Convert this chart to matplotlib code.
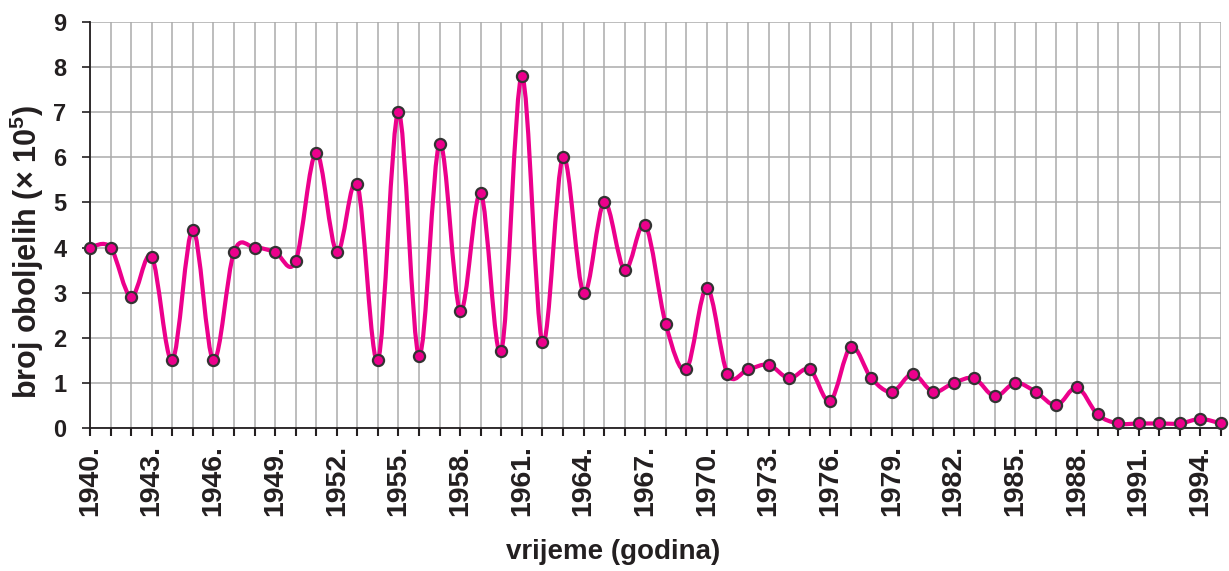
import matplotlib
matplotlib.use("Agg")
import matplotlib.pyplot as plt
from matplotlib.path import Path
from matplotlib.patches import PathPatch
import numpy as np

years = list(range(1940, 1996))
values = [4.0, 4.0, 2.9, 3.8, 1.5, 4.4, 1.5, 3.9, 4.0, 3.9,
          3.7, 6.1, 3.9, 5.4, 1.5, 7.0, 1.6, 6.3, 2.6, 5.2,
          1.7, 7.8, 1.9, 6.0, 3.0, 5.0, 3.5, 4.5, 2.3, 1.3,
          3.1, 1.2, 1.3, 1.4, 1.1, 1.3, 0.6, 1.8, 1.1, 0.8,
          1.2, 0.8, 1.0, 1.1, 0.7, 1.0, 0.8, 0.5, 0.9, 0.3,
          0.1, 0.1, 0.1, 0.1, 0.2, 0.1]
label_years = list(range(1940, 1996, 3))
tick_labels = [f"{y}." for y in label_years]
y_ticks = list(range(0, 10))

plt.rcParams['font.family'] = ['Liberation Sans', 'DejaVu Sans']
plt.rcParams['font.weight'] = 'bold'
plt.rcParams['mathtext.fontset'] = 'custom'
plt.rcParams['mathtext.rm'] = 'Liberation Sans:bold'
plt.rcParams['mathtext.it'] = 'Liberation Sans:bold'
plt.rcParams['mathtext.bf'] = 'Liberation Sans:bold'

W, H = 1229, 571
fig = plt.figure(figsize=(W / 100, H / 100), dpi=100)
L, R, T, B = 90, 1221, 22, 428
ax = fig.add_axes([L / W, 1 - B / H, (R - L) / W, (B - T) / H])

text_color = '#231F20'
line_color = '#EC008C'

# smooth curve (Excel-like Bezier smoothing) built from the data points
x = np.array(years, dtype=float)
yv = np.array(values, dtype=float)
n = len(x)
verts = [(x[0], yv[0])]
codes = [Path.MOVETO]
for i in range(n - 1):
    xp, yp = (x[i - 1], yv[i - 1]) if i > 0 else (x[i], yv[i])
    xn2, yn2 = (x[i + 2], yv[i + 2]) if i + 2 < n else (x[i + 1], yv[i + 1])
    c1 = (x[i] + (x[i + 1] - xp) / 6, yv[i] + (yv[i + 1] - yp) / 6)
    c2 = (x[i + 1] - (xn2 - x[i]) / 6, yv[i + 1] - (yn2 - yv[i]) / 6)
    verts += [c1, c2, (x[i + 1], yv[i + 1])]
    codes += [Path.CURVE4] * 3
patch = PathPatch(Path(verts, codes), facecolor='none', edgecolor=line_color,
                  lw=3.0, zorder=3, capstyle='round', joinstyle='round')
patch.set_clip_on(False)
ax.add_patch(patch)
ax.plot(years, values, linestyle='none', marker='o', markersize=8,
        markerfacecolor=line_color, markeredgecolor='#333333',
        markeredgewidth=1.6, zorder=4, clip_on=False)

ax.set_xlim(1940, 1995)
ax.set_ylim(0, 9)
ax.set_xticks(years, minor=False)
ax.set_xticklabels([f"{y}." if y in label_years else "" for y in years],
                   rotation=90, fontsize=20.5, fontweight='bold', color=text_color)
ax.set_yticks(y_ticks)
ax.set_yticklabels([str(v) for v in y_ticks], fontsize=17,
                   fontweight='bold', color=text_color)
ax.tick_params(axis='x', direction='out', length=6, width=1.5,
               color=text_color, pad=6)
ax.tick_params(axis='y', direction='out', length=6, width=1.2,
               color=text_color, pad=11)

ax.grid(True, color='#ABABAB', linewidth=1.1, zorder=0)
ax.set_axisbelow(True)
for s in ['top', 'right']:
    ax.spines[s].set_visible(False)
for s in ['left', 'bottom']:
    ax.spines[s].set_color(text_color)
    ax.spines[s].set_linewidth(1.3)
    ax.spines[s].set_zorder(2.5)

fig.text(27 / W, 1 - 252 / H, r"broj oboljelih (× 10$^{5}$)", rotation=90,
         ha='center', va='center', fontsize=22, fontweight='bold',
         color=text_color)
fig.text(613 / W, 1 - 552 / H, "vrijeme (godina)", ha='center', va='center',
         fontsize=20, fontweight='bold', color=text_color)

fig.savefig("out.png", dpi=100, facecolor='white')
